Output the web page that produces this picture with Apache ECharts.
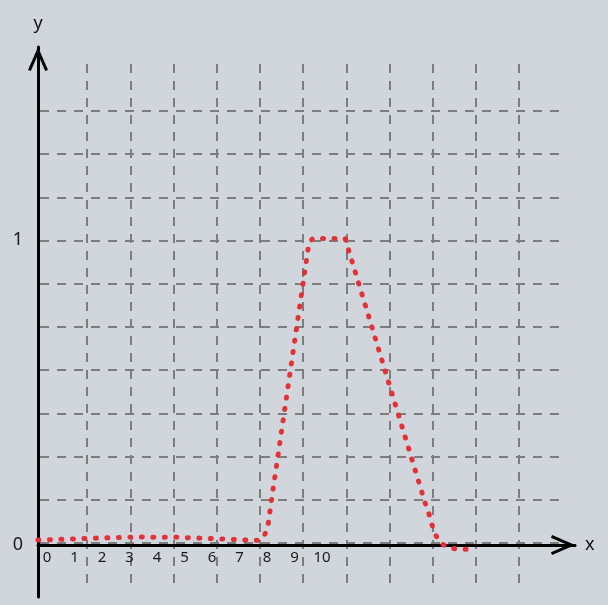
<!DOCTYPE html>
<html>
<head>
<meta charset="utf-8">
<script src="https://cdn.jsdelivr.net/npm/echarts@6/dist/echarts.min.js"></script>
<style>
html,body{margin:0;padding:0;background:#d1d5dc;}
#c{width:608px;height:605px;}
</style>
</head>
<body>
<div id="c"></div>
<script>
// ---- data ----
const xTickLabels = [0, 1, 2, 3, 4, 5, 6, 7, 8, 9, 10];
const yTickLabels = [0, 1];
const curveX = [-0.33, 1.93, 3.38, 4.84, 6.29, 7.67, 7.89, 8.04, 8.15, 9.53, 9.67, 10.84, 13.75, 13.89, 14.0, 14.15, 14.33, 14.65, 15.09, 15.53];
const curveY = [0.016, 0.023, 0.026, 0.025, 0.020, 0.015, 0.026, 0.066, 0.138, 0.993, 1.005, 1.005, 0.138, 0.102, 0.066, 0.030, 0.005, -0.010, -0.015, -0.012];
const gridRowsCount = 10;   // horizontal dashed grid rows
const gridColsRange = [1, 11]; // vertical dashed grid columns

const chevron = 'path://M10 0 L20 23 L17.2 24.2 L10 7.5 L2.8 24.2 L0 23 Z';
const axisFont = '"Noto Sans", "Open Sans", sans-serif';

const chart = echarts.init(document.getElementById('c'), null, {renderer: 'canvas'});
const dash = {color: '#7d7d7d', width: 2, type: [9, 8]};
const axisLineStyle = {color: '#000', width: 3};

chart.setOption({
  backgroundColor: '#d1d5dc',
  animation: false,
  grid: [
    {left: 40, right: 48, top: 111, bottom: 62, outerBoundsMode: 'none', containLabel: false},
    {left: 87.2, right: 88.8, top: 64, bottom: 22, outerBoundsMode: 'none', containLabel: false},
    {left: 38, right: 33, top: 47, bottom: 60, outerBoundsMode: 'none', containLabel: false},
    {left: 38, right: 33, top: 47, bottom: 8, outerBoundsMode: 'none', containLabel: false}
  ],
  xAxis: [
    {gridIndex: 0, type: 'value', min: 0, max: 1, show: false},
    {gridIndex: 1, type: 'value', min: gridColsRange[0], max: gridColsRange[1], interval: 1,
     axisLine: {show: false}, axisTick: {show: false}, axisLabel: {show: false},
     splitLine: {show: true, lineStyle: dash}},
    {gridIndex: 2, type: 'value', min: -0.327, max: 19.2, position: 'bottom',
     axisLine: {show: true, onZero: false, symbol: ['none', chevron], symbolSize: [20, 26], symbolOffset: [0, -12],
       lineStyle: axisLineStyle},
     axisTick: {show: false},
     splitLine: {show: false},
     axisLabel: {customValues: xTickLabels, color: '#1a1a1a', fontSize: 15, fontFamily: axisFont, margin: 5},
     name: 'x', nameLocation: 'end', nameGap: 10,
     nameTextStyle: {fontSize: 18, color: '#111', fontFamily: axisFont, verticalAlign: 'middle'}},
    {gridIndex: 3, type: 'value', min: 0, max: 1, show: false}
  ],
  yAxis: [
    {gridIndex: 0, type: 'value', min: 0, max: gridRowsCount, interval: 1,
     axisLine: {show: false}, axisTick: {show: false}, axisLabel: {show: false},
     splitLine: {show: true, lineStyle: dash}},
    {gridIndex: 1, type: 'value', min: 0, max: 1, show: false},
    {gridIndex: 2, type: 'value', min: 0, max: 1.6328, show: false},
    {gridIndex: 3, type: 'value', min: -0.1705, max: 1.6328, position: 'left',
     axisLine: {show: true, onZero: false, symbol: ['none', chevron], symbolSize: [20, 26], symbolOffset: [0, -12],
       lineStyle: axisLineStyle},
     axisTick: {show: false},
     splitLine: {show: false},
     axisLabel: {customValues: yTickLabels, color: '#1a1a1a', fontSize: 18, fontFamily: axisFont, margin: 15},
     name: 'y', nameLocation: 'end', nameGap: 14,
     nameTextStyle: {fontSize: 18, color: '#111', fontFamily: axisFont, align: 'center'}}
  ],
  series: [{
    type: 'line',
    xAxisIndex: 2, yAxisIndex: 2,
    data: curveX.map((x, i) => [x, curveY[i]]),
    showSymbol: false,
    symbol: 'none',
    clip: false,
    z: 5,
    lineStyle: {color: '#e3313a', width: 5, type: [1, 10.5], cap: 'round', join: 'round'}
  }]
});
</script>
</body>
</html>
